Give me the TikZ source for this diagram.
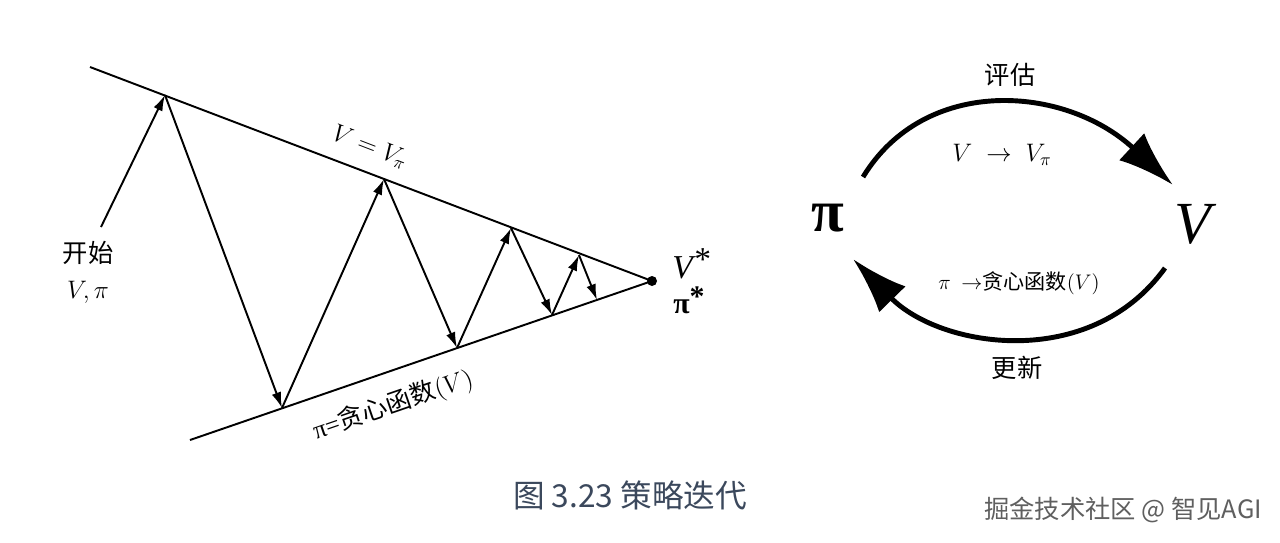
\documentclass[tikz,border=0pt]{standalone}
\usepackage{fontspec}
\newfontfamily\cjk{Noto Sans CJK SC}
\newfontfamily\tms{Liberation Serif}
\usetikzlibrary{arrows.meta}
\definecolor{captionblue}{RGB}{59,72,92}
\definecolor{markgray}{RGB}{95,95,95}

\begin{document}
\begin{tikzpicture}[x=0.02cm, y=-0.02cm,
    edge/.style={line width=1.1pt},
    zig/.style={line width=1.1pt, -{Latex[length=9pt,width=5.5pt]}},
    bigarc/.style={line width=2.8pt, -{Latex[length=32pt,width=21pt]}},
    lbl/.style={font=\Large\cjk, inner sep=0pt}]
    \useasboundingbox (0,0) rectangle (1280,542);
    % left picture: the two lines and the optimum
    \coordinate (tl) at (90,67);
    \coordinate (bl) at (190,440);
    \node[circle, fill, inner sep=0pt, minimum size=0.2cm] (opt) at (652,281) {};
    \draw[edge] (tl) -- (opt.center);
    \draw[edge] (bl) -- (opt.center);
    \coordinate (s) at (101,227);
    \coordinate (t1) at (165,95);
    \coordinate (b1) at (282,408);
    \coordinate (t2) at (384,179);
    \coordinate (b2) at (457,348);
    \coordinate (t3) at (511,228);
    \coordinate (b3) at (552,315);
    \coordinate (t4) at (579,255);
    \coordinate (b4) at (597,300);
    \draw[zig] (s) -- (t1);
    \draw[zig] (t1) -- (b1);
    \draw[zig] (b1) -- (t2);
    \draw[zig] (t2) -- (b2);
    \draw[zig] (b2) -- (t3);
    \draw[zig] (t3) -- (b3);
    \draw[zig] (b3) -- (t4);
    \draw[zig] (t4) -- (b4);
    \node[lbl] (start) at (88,253) {开始};
    \node[lbl] (init) at (88,292) {$V,\pi$};
    \node[lbl, rotate=-21] (vline) at (370,147) {$V = V_\pi$};
    \node[lbl, rotate=19] (pline) at (393,405) {{\tms π=}贪心函数$(V)$};
    \node[inner sep=0pt, font=\tms\fontsize{19}{22}\selectfont\itshape] (vstar) at (691,264) {V\raisebox{0.55ex}{*}};
    \node[inner sep=0pt, font=\tms\fontsize{17}{20}\selectfont\bfseries] (pstar) at (689,300) {π\raisebox{0.5ex}{*}};
    % right picture: evaluation and improvement
    \node[inner sep=0pt, font=\tms\fontsize{34}{40}\selectfont\bfseries] (pi) at (828,218) {π};
    \node[inner sep=0pt, font=\tms\fontsize{34}{40}\selectfont\itshape] (v) at (1193,224) {V};
    \coordinate (evs) at (863,177);
    \coordinate (eve) at (1173,185);
    \coordinate (ups) at (1165,268);
    \coordinate (upe) at (853,259);
    \draw[bigarc] (evs) .. controls (925,75) and (1065,85) .. (eve);
    \draw[bigarc] (ups) .. controls (1090,372) and (940,348) .. (upe);
    \node[lbl] (eval) at (1010,75) {评估};
    \node[lbl] (evrule) at (1002,155) {$V \;\rightarrow\; V_\pi$};
    \node[lbl, font=\large\cjk] (uprule) at (1019,283) {$\pi\ \rightarrow$贪心函数$(V)$};
    \node[lbl] (upd) at (1017,368) {更新};
    % caption and mark
    \node[inner sep=0pt, text=captionblue, font=\cjk\fontsize{18}{22}\selectfont] (cap) at (630,495) {图 3.23 策略迭代};
    \node[inner sep=0pt, text=markgray, font=\cjk\Large] (mark) at (1123,510) {掘金技术社区 @ 智见AGI};
\end{tikzpicture}
\end{document}
